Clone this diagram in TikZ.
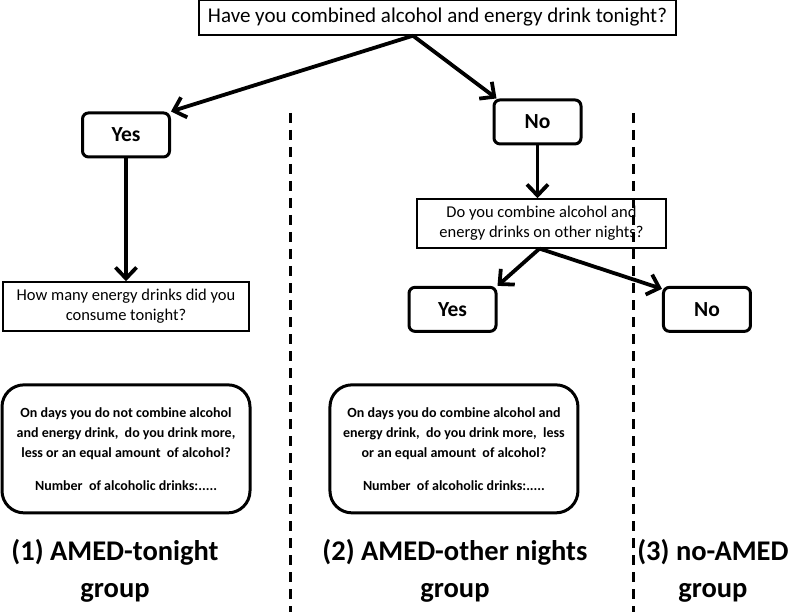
\documentclass[tikz,border=0pt]{standalone}
\usepackage{fontspec}
\setmainfont{Carlito}
\usetikzlibrary{shapes, arrows.meta}
\tikzstyle{arrow} = [line width=3.8pt, -{Straight Barb[length=11pt, width=21pt]}]
\tikzstyle{question} = [rectangle, minimum height=49pt, text centered, align=center, draw=black, line width=1.4pt, font=\fontsize{16.5}{20}\selectfont]
\tikzstyle{answer} = [rectangle, rounded corners=6pt, minimum width=87pt, minimum height=44pt, text centered, draw=black, line width=3pt, font=\bfseries\fontsize{21.5}{24}\selectfont]
\tikzstyle{followup} = [rectangle, rounded corners=22pt, minimum width=248pt, minimum height=128pt, align=center, draw=black, line width=3pt, font=\bfseries\fontsize{14}{20}\selectfont]
\tikzstyle{grouplabel} = [align=center, font=\bfseries\fontsize{28.5}{37}\selectfont]
\tikzstyle{divider} = [line width=3pt, dash pattern=on 10pt off 7pt]

\begin{document}
\begin{tikzpicture}[node distance = 1cm, x = 1pt, y = 1pt]
				\useasboundingbox (0,0) rectangle (792,-612);
				%\node(label)[type]{name}
				\node(top)[question, minimum width = 477pt, minimum height = 35pt, font=\fontsize{21}{24}\selectfont] at (437.5,-17.5){Have you combined alcohol and energy drink tonight?};
				
				\node(yes1)[answer, below of = top, xshift = -311.5pt, yshift = -89pt]{Yes};
				\node(no1)[answer, below of = top, xshift = 100pt, yshift = -76pt]{No};
				
				\node(howmany)[question, minimum width = 246pt, below of = yes1, yshift = -143pt]{How many energy drinks did you\\consume tonight?};
				\node(other)[question, minimum width = 249pt, below of = no1, xshift = 4pt, yshift = -73pt]{Do you combine alcohol and\\energy drinks on other nights?};
				
				\node(yes2)[answer, below of = other, xshift = -89pt, yshift = -57.5pt]{Yes};
				\node(no2)[answer, right of = yes2, xshift = 226pt]{No};
				
				\node(amount1)[followup, below of = howmany, yshift = -114pt]{On days you do not combine alcohol\\and energy drink,~ do you drink more,\\less or an equal amount~ of alcohol?\\[13pt]Number~ of alcoholic drinks:.....};
				\node(amount2)[followup, right of = amount1, xshift = 299.5pt]{On days you do combine alcohol and\\energy drink,~ do you drink more,~ less\\or an equal amount~ of alcohol?\\[13pt]Number~ of alcoholic drinks:.....};
				
				\node(group1)[grouplabel, below of = amount1, xshift = -11pt, yshift = -93.5pt]{(1) AMED-tonight\\group};
				\node(group2)[grouplabel, below of = amount2, xshift = 1pt, yshift = -93.5pt]{(2) AMED-other nights\\group};
				\node(group3)[grouplabel, right of = group2, xshift = 229.5pt]{(3) no-AMED\\group};
				
				%arrows
					\coordinate(split) at ([xshift = -24.5pt]top.south);
					\coordinate(fork) at ([xshift = -2pt]other.south);
					\draw [arrow] (split) -- (yes1.north east);
					\draw [arrow] (split) -- ([xshift = 4pt]no1.north west);
					\draw [arrow] (yes1) -- (howmany);
					\draw [arrow] (no1.south) -- (no1.south |- other.north);
					\draw [arrow] (fork) -- (yes2.north east);
					\draw [arrow] (fork) -- ([yshift = -3pt]no2.north west);
				
				%dividers
					\draw [divider] (290,-113) -- (290,-612);
					\draw [divider] (633,-113) -- (633,-612);
				\end{tikzpicture}
\end{document}
